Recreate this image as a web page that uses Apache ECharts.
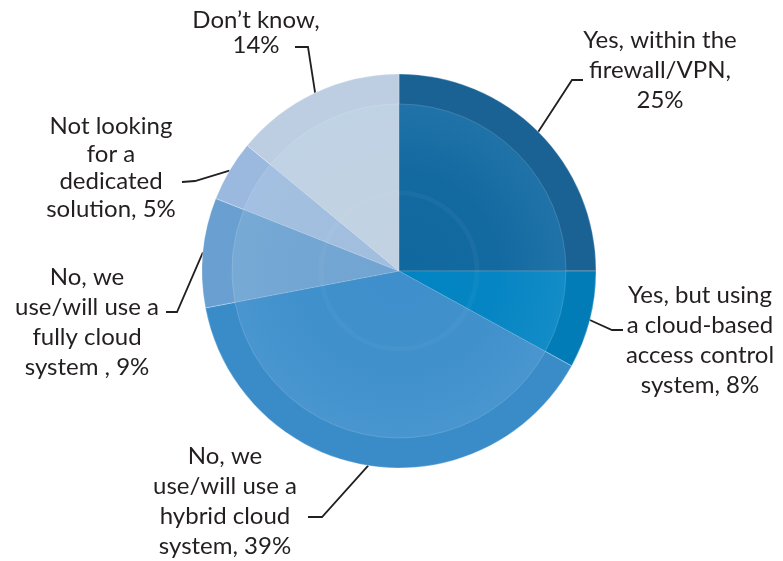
<!DOCTYPE html>
<html>
<head>
<meta charset="utf-8">
<script src="https://cdn.jsdelivr.net/npm/echarts@6/dist/echarts.min.js"></script>
<style>
  html, body { margin: 0; padding: 0; background: #ffffff; }
  #chart { width: 783px; height: 561px; }
</style>
</head>
<body>
<div id="chart"></div>
<script>
// Survey answers, clockwise from 12 o'clock
const categories = [
  'Yes, within the\nfirewall/VPN',
  'Yes, but using\na cloud-based\naccess control\nsystem',
  'No, we\nuse/will use a\nhybrid cloud\nsystem',
  'No, we\nuse/will use a\nfully cloud\nsystem ',
  'Not looking\nfor a\ndedicated\nsolution',
  'Don\u2019t know'
];
const shares = [25, 8, 39, 9, 5, 14];
// text placed between the answer and its percentage
const valueJoin = [',\n', ', ', ', ', ', ', ', ', ',\n'];

// slice colours: outer rim and inner disc
const rimColors  = ['#1a6294', '#027cb6', '#3a8cc8', '#6aa0d1', '#9bb9de', '#bdcee2'];
const discColors = ['#10689f', '#0284c2', '#3e8fcb', '#72a5d2', '#a2bedf', '#c2d2e3'];

// label block centre, line height, and leader elbow / end points
const labelLayouts = [
  { x: 660, y: 70,  lh: 30, elbow: [572, 80],  end: [583, 80] },
  { x: 700, y: 340, lh: 30, elbow: [612, 330], end: [623, 330] },
  { x: 225, y: 501, lh: 30, elbow: [322, 517], end: [308, 517] },
  { x: 87,  y: 322, lh: 30, elbow: [177, 312], end: [166, 312] },
  { x: 111, y: 168, lh: 27.5, elbow: [195, 181], end: [182, 182] },
  { x: 256, y: 33,  lh: 25, elbow: [308, 47],  end: [295, 47] }
];

const CX = 399, CY = 271, R = 197, R_IN = 167;
const FONT = 'Lato';

const chart = echarts.init(document.getElementById('chart'));

const pieData = categories.map((name, i) => ({
  name: name,
  value: shares[i],
  itemStyle: { color: rimColors[i] },
  label: { lineHeight: labelLayouts[i].lh }
}));

const discData = categories.map((name, i) => ({
  name: name,
  value: shares[i],
  itemStyle: { color: discColors[i] }
}));

chart.setOption({
  backgroundColor: '#ffffff',
  animation: false,
  series: [
    {
      type: 'pie',
      center: [CX, CY],
      radius: [0, R],
      startAngle: 90,
      clockwise: true,
      avoidLabelOverlap: false,
      z: 1,
      itemStyle: { borderColor: 'rgba(255,255,255,0.45)', borderWidth: 0.6 },
      label: {
        show: true,
        position: 'outside',
        fontFamily: FONT,
        fontSize: 24,
        color: '#231f20',
        align: 'center',
        formatter: p => p.name + valueJoin[p.dataIndex] + p.value + '%'
      },
      labelLine: {
        show: true,
        lineStyle: { color: '#231f20', width: 1.8 }
      },
      labelLayout: function (p) {
        const L = labelLayouts[p.dataIndex];
        const start = p.labelLinePoints ? p.labelLinePoints[0] : L.elbow;
        return {
          x: L.x,
          y: L.y,
          align: 'center',
          verticalAlign: 'middle',
          labelLinePoints: [start, L.elbow, L.end]
        };
      },
      emphasis: { disabled: true },
      data: pieData
    },
    {
      type: 'pie',
      center: [CX, CY],
      radius: [0, R_IN],
      startAngle: 90,
      clockwise: true,
      silent: true,
      z: 2,
      itemStyle: { borderColor: 'rgba(255,255,255,0.3)', borderWidth: 0.5 },
      label: { show: false },
      labelLine: { show: false },
      emphasis: { disabled: true },
      data: discData
    }
  ],
  graphic: [
    {
      type: 'circle',
      z: 100,
      silent: true,
      shape: { cx: CX, cy: CY, r: R_IN },
      style: {
        fill: {
          type: 'radial', x: 0.5, y: 0.5, r: 0.5,
          colorStops: [
            { offset: 0, color: 'rgba(170,210,245,0)' },
            { offset: 0.6, color: 'rgba(170,210,245,0.02)' },
            { offset: 1, color: 'rgba(170,210,245,0.1)' }
          ]
        }
      }
    },
    {
      type: 'circle',
      z: 101,
      silent: true,
      shape: { cx: CX, cy: CY, r: 78 },
      style: { fill: 'none', stroke: 'rgba(255,255,255,0.035)', lineWidth: 5 }
    }
  ]
});
</script>
</body>
</html>
